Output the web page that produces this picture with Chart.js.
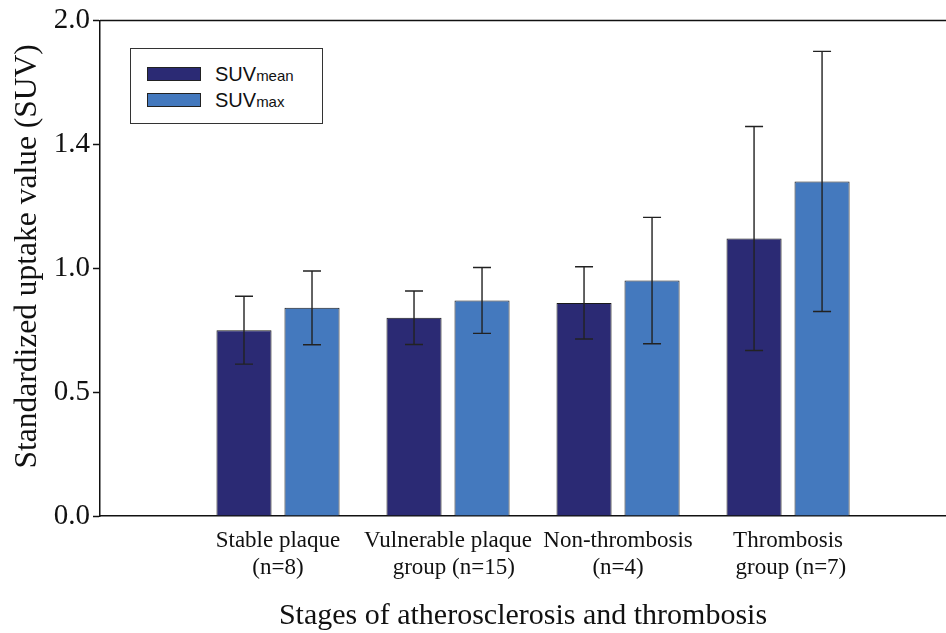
<!DOCTYPE html>
<html>
<head>
<meta charset="utf-8">
<script src="https://cdn.jsdelivr.net/npm/chart.js@4"></script>
<style>
  html, body { margin: 0; padding: 0; background: #fff; }
  #wrap { position: relative; width: 946px; height: 633px; }
  #legend { position: absolute; border: 1px solid #333; background: #fff; box-sizing: border-box;
            font-family: "Liberation Sans", Arial, sans-serif; color: #111; }
  .row { display: flex; align-items: center; height: 26px; }
  .sw { width: 54px; height: 14px; border: 1px solid #222; box-sizing: border-box; margin-right: 14px; }
  .big { font-size: 20px; }
  .small { font-size: 15px; }
</style>
</head>
<body>
<div id="wrap">
  <canvas id="c" width="946" height="633"></canvas>
  <div id="legend"></div>
</div>
<script>
// ---- data ----
const categories = [
  ["Stable plaque", "(n=8)"],
  ["Vulnerable plaque", "  group (n=15)"],
  ["Non-thrombosis", "(n=4)"],
  ["Thrombosis", " group (n=7)"]
];
const seriesNames = ["SUV", "SUV"];
const seriesSubs = ["mean", "max"];
const suvMean = [0.75, 0.80, 0.86, 1.12];
const suvMeanSD = [0.137, 0.108, 0.146, 0.452];
const suvMax = [0.84, 0.87, 0.95, 1.35];
const suvMaxSD = [0.149, 0.133, 0.255, 0.525];
const yTickValues = [0, 0.5, 1.0, 1.5, 2.0];
const yTickLabels = ["0.0", "0.5", "1.0", "1.4", "2.0"];
const xTitle = "Stages of atherosclerosis and thrombosis";
const yTitle = "Standardized uptake value (SUV)";

const colMean = "#2b2a74";
const colMax = "#4479be";

const errorBars = {
  id: "errorBars",
  afterDatasetsDraw(chart) {
    const ctx = chart.ctx;
    const y = chart.scales.y;
    chart.data.datasets.forEach((ds, di) => {
      const meta = chart.getDatasetMeta(di);
      meta.data.forEach((bar, i) => {
        const v = ds.data[i].y, e = ds.sd[i];
        const yt = y.getPixelForValue(v + e), yb = y.getPixelForValue(v - e);
        ctx.save();
        ctx.strokeStyle = "#222";
        ctx.lineWidth = 1.4;
        ctx.beginPath();
        ctx.moveTo(bar.x, yt); ctx.lineTo(bar.x, yb);
        ctx.moveTo(bar.x - 9, yt); ctx.lineTo(bar.x + 9, yt);
        ctx.moveTo(bar.x - 9, yb); ctx.lineTo(bar.x + 9, yb);
        ctx.stroke();
        ctx.restore();
      });
    });
  }
};

const frame = {
  id: "frame",
  afterDraw(chart) {
    const {ctx, chartArea} = chart;
    ctx.save();
    ctx.strokeStyle = "#111";
    ctx.lineWidth = 1.5;
    ctx.beginPath();
    ctx.moveTo(chartArea.left, chartArea.top);
    ctx.lineTo(chartArea.right, chartArea.top);
    ctx.stroke();
    ctx.restore();
  }
};

const htmlLegend = {
  id: "htmlLegend",
  afterUpdate(chart) {
    const el = document.getElementById("legend");
    el.innerHTML = "";
    const a = chart.chartArea;
    el.style.left = (a.left + 30) + "px";
    el.style.top = (a.top + 28) + "px";
    el.style.width = "193px";
    el.style.height = "76px";
    el.style.padding = "12px 0 0 16px";
    chart.data.datasets.forEach((ds, i) => {
      const row = document.createElement("div");
      row.className = "row";
      const sw = document.createElement("div");
      sw.className = "sw";
      sw.style.background = ds.backgroundColor;
      const t = document.createElement("span");
      t.innerHTML = '<span class="big">' + seriesNames[i] + '</span><span class="small">' + seriesSubs[i] + '</span>';
      row.appendChild(sw); row.appendChild(t);
      el.appendChild(row);
    });
  }
};

new Chart(document.getElementById("c"), {
  type: "bar",
  data: {
    datasets: [
      { label: "SUVmean", data: suvMean.map((v, i) => ({x: i, y: v})), sd: suvMeanSD,
        backgroundColor: colMean, borderColor: "#1a1a1a", borderWidth: 1 },
      { label: "SUVmax", data: suvMax.map((v, i) => ({x: i, y: v})), sd: suvMaxSD,
        backgroundColor: colMax, borderColor: "#1a1a1a", borderWidth: 1 }
    ]
  },
  options: {
    responsive: false,
    animation: false,
    devicePixelRatio: 1,
    layout: { padding: { top: 20, right: 0, left: 0, bottom: 0 } },
    categoryPercentage: 0.8,
    barPercentage: 0.81,
    plugins: { legend: { display: false }, tooltip: { enabled: false } },
    scales: {
      x: {
        type: "linear",
        offset: false,
        min: -1.047,
        max: 3.929,
        afterBuildTicks(s) { s.ticks = categories.map((c, i) => ({value: i})); },
        afterFit(s) { s.height = 117; },
        ticks: {
          callback: (v) => categories[v],
          font: { family: "Liberation Serif", size: 23, lineHeight: 1.2 },
          color: "#111",
          padding: 11,
          maxRotation: 0,
          autoSkip: false
        },
        grid: { display: false, drawTicks: false },
        border: { display: true, color: "#111", width: 1.5 },
        title: {
          display: true, text: xTitle, color: "#111",
          font: { family: "Liberation Serif", size: 30, lineHeight: 1.0 },
          padding: { top: 0, bottom: 2 }
        }
      },
      y: {
        min: 0, max: 2.0,
        afterBuildTicks(s) { s.ticks = yTickValues.map(v => ({value: v})); },
        afterFit(s) { s.width = 100; },
        ticks: {
          callback: (v) => yTickLabels[yTickValues.indexOf(v)],
          font: { family: "Liberation Serif", size: 29 },
          color: "#111",
          padding: 3
        },
        grid: { drawOnChartArea: false, drawTicks: true, tickLength: 7, tickColor: "#111", tickWidth: 1.5 },
        border: { display: true, color: "#111", width: 1.5 },
        title: {
          display: true, text: "\u00a0\u00a0\u00a0" + yTitle, color: "#111",
          font: { family: "Liberation Serif", size: 31.5, lineHeight: 1.2 },
          padding: { top: 9, bottom: 0 }
        }
      }
    }
  },
  plugins: [errorBars, frame, htmlLegend]
});
</script>
</body>
</html>
